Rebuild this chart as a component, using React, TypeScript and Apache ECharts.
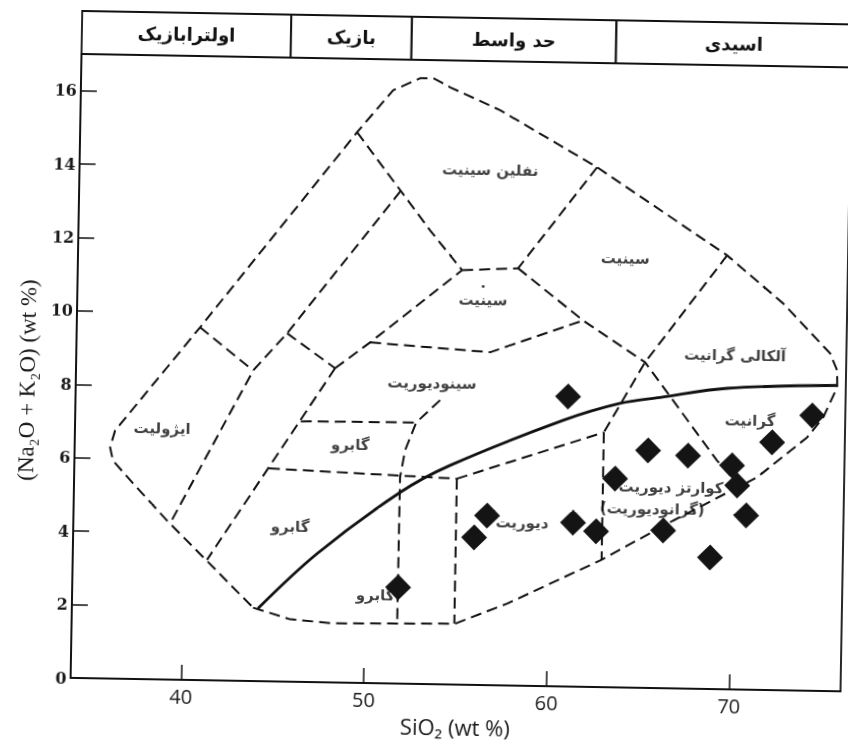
import React, { useEffect, useRef } from "react";
import * as echarts from "echarts";

// Axis ticks
const sio2Ticks = [40, 50, 60, 70];
const alkaliTicks = [0, 2, 4, 6, 8, 10, 12, 14, 16];

// Header row: SiO2 classes
const rockClassNames = ["اولترابازیک", "بازیک", "حد واسط", "اسیدی"];
const rockClassBounds = [33.95, 45.4, 52, 63.2, 76.1];

// Field boundaries (SiO2, Na2O+K2O)
const outerBoundary = [
  [43.87, 2.0], [45.91, 1.7], [48.26, 1.61], [53.74, 1.65], [54.94, 1.66],
  [57.77, 2.23], [62.82, 3.45], [66.78, 4.57], [71.33, 5.79], [74.03, 6.9],
  [74.89, 7.45], [75.63, 8.28], [75.61, 8.74], [75.21, 9.2], [72.59, 10.54],
  [69.48, 11.82], [62.28, 14.16], [56.91, 15.67], [54.15, 16.27], [53.22, 16.51],
  [52.51, 16.5], [51.04, 16.16], [49.11, 15.0], [40.7, 9.61], [38.93, 8.5],
  [36.15, 6.76], [35.89, 6.3], [36.06, 5.94], [37.18, 5.33], [39.08, 4.33],
  [43.87, 2.0],
];
const ultramaficEdge = [[51.55, 13.42], [45.47, 9.49], [43.65, 8.46], [39.24, 4.25]];
const ijoliteTop = [[40.7, 9.61], [43.65, 8.46]];
const gabbroLink = [[45.47, 9.49], [48.13, 8.56]];
const gabbroWest = [[48.13, 8.56], [41.3, 3.28]];
const syenodioriteTop = [[48.13, 8.56], [50.02, 9.28], [54.99, 11.29]];
const nephSyeniteWest = [[49.11, 15.0], [53.2, 12.36], [54.99, 11.29]];
const syeniteBase = [[54.99, 11.29], [58.05, 11.37]];
const nephSyeniteEast = [[62.28, 14.16], [58.05, 11.37]];
const syeniteEast = [[58.05, 11.37], [61.66, 9.98], [65.09, 8.87], [69.12, 6.23], [70.4, 5.53]];
const syenodioriteMid = [[50.02, 9.28], [56.6, 9.07], [61.66, 9.98]];
const alkaliGraniteWest = [[69.48, 11.82], [65.09, 8.87], [62.9, 6.94]];
const dioriteTop = [[54.9, 5.61], [62.9, 6.94]];
const dioriteWest = [[54.9, 5.61], [54.9, 1.66]];
const quartzDioriteWest = [[62.9, 6.94], [62.9, 3.47]];
const gabbroUpper = [[46.3, 7.1], [52.62, 7.12]];
const gabbroLower = [[44.6, 5.8], [54.9, 5.61]];
const gabbroEast = [[53.91, 7.74], [52.62, 7.12], [52.04, 6.36], [51.79, 5.62], [51.77, 1.64]];
const alkalineDivide = [
  [44.14, 1.98], [47.32, 3.5], [51.81, 5.21], [54.52, 5.97], [60.66, 7.25],
  [63.76, 7.74], [65.94, 7.92], [69.61, 8.2], [75.62, 8.33],
];

const dashedBoundaries = [
  outerBoundary, ultramaficEdge, ijoliteTop, gabbroLink, gabbroWest,
  syenodioriteTop, nephSyeniteWest, syeniteBase, nephSyeniteEast, syeniteEast,
  syenodioriteMid, alkaliGraniteWest, dioriteTop, dioriteWest, quartzDioriteWest,
  gabbroUpper, gabbroLower, gabbroEast,
];

// Samples
const sampleSiO2 = [60.91, 65.34, 67.53, 63.56, 69.95, 70.25, 74.29, 72.12, 70.77, 66.24, 68.83, 56.59, 55.9, 61.3, 62.57, 51.79];
const sampleAlkali = [7.9, 6.47, 6.35, 5.69, 6.1, 5.56, 7.5, 6.75, 4.75, 4.3, 3.58, 4.62, 4.02, 4.47, 4.24, 2.62];

// Field names
const fieldNames = [
  "نفلین سینیت", "سینیت", "سینیت", "آلکالی گرانیت", "سینودیوریت", "ایژولیت",
  "گابرو", "گابرو", "گابرو", "گرانیت", "دیوریت", "کوارتز دیوریت", "(گرانودیوریت)",
];
const fieldSiO2 = [56.43, 63.9, 56.16, 70.01, 53.45, 38.72, 49.03, 45.82, 50.54, 70.89, 58.51, 66.63, 65.62];
const fieldAlkali = [14.03, 11.69, 10.6, 9.1, 8.19, 6.84, 6.49, 4.23, 2.39, 7.34, 4.45, 5.47, 4.87];
const dottedField = 2;

const INK = "#111111";
const persianFont = '"DejaVu Sans", sans-serif';

export default function App() {
  const ref = useRef<HTMLDivElement>(null);

  useEffect(() => {
    if (!ref.current) return;
    const chart = echarts.init(ref.current, undefined, { renderer: "svg" });

    const boundarySeries = dashedBoundaries.map((pts) => ({
      type: "line",
      xAxisIndex: 0,
      yAxisIndex: 0,
      data: pts,
      symbol: "none",
      silent: true,
      clip: false,
      z: 2,
      lineStyle: { color: INK, width: 2, type: [11, 6] },
    }));

    const option: any = {
      animation: false,
      backgroundColor: "#ffffff",
      grid: [
        { left: 76, right: 2, top: 60, bottom: 60, show: true, borderColor: INK, borderWidth: 1.8, backgroundColor: "transparent" },
        { left: 76, right: 2, top: 17, bottom: 684, show: false },
      ],
      xAxis: [
        {
          type: "value",
          gridIndex: 0,
          min: 33.95,
          max: 76.1,
          axisLine: { show: true, onZero: false, lineStyle: { color: INK, width: 1.8 } },
          axisTick: { show: true, inside: true, length: 15, customValues: sio2Ticks, lineStyle: { color: INK, width: 1.5 } },
          axisLabel: { customValues: sio2Ticks, margin: 6, fontFamily: '"Open Sans", sans-serif', fontSize: 20, color: "#1a1a1a" },
          splitLine: { show: false },
          name: "SiO₂ (wt %)",
          nameLocation: "middle",
          nameGap: 30,
          nameTextStyle: { fontFamily: '"Open Sans", sans-serif', fontSize: 22, color: "#1a1a1a" },
        },
        { type: "value", gridIndex: 1, min: 33.95, max: 76.1, show: false },
      ],
      yAxis: [
        {
          type: "value",
          gridIndex: 0,
          min: 0,
          max: 17,
          axisLine: { show: true, lineStyle: { color: INK, width: 1.8 } },
          axisTick: { show: true, inside: true, length: 16, customValues: alkaliTicks, lineStyle: { color: INK, width: 1.5 } },
          axisLabel: { customValues: alkaliTicks, margin: 4, fontFamily: '"DejaVu Serif", serif', fontWeight: "bold", fontSize: 16, color: "#1a1a1a" },
          splitLine: { show: false },
          name: "(Na₂O + K₂O) (wt %)",
          nameLocation: "middle",
          nameGap: 36,
          nameTextStyle: { fontFamily: '"Liberation Serif", serif', fontSize: 23, color: "#1a1a1a", padding: [0, 30, 0, 0] },
        },
        { type: "value", gridIndex: 1, min: 0, max: 1, show: false },
      ],
      series: [
        {
          type: "custom",
          xAxisIndex: 1,
          yAxisIndex: 1,
          clip: false,
          silent: true,
          data: rockClassNames.map((_, i) => [rockClassBounds[i], rockClassBounds[i + 1]]),
          renderItem: (params: any, api: any) => {
            const p0 = api.coord([api.value(0), 1]);
            const p1 = api.coord([api.value(1), 0]);
            return {
              type: "group",
              children: [
                {
                  type: "rect",
                  shape: { x: p0[0], y: p0[1], width: p1[0] - p0[0], height: p1[1] - p0[1] },
                  style: { fill: "none", stroke: INK, lineWidth: 1.8 },
                },
                {
                  type: "text",
                  style: {
                    text: rockClassNames[params.dataIndex],
                    x: (p0[0] + p1[0]) / 2,
                    y: (p0[1] + p1[1]) / 2,
                    align: "center",
                    verticalAlign: "middle",
                    font: `bold 18px ${persianFont}`,
                    fill: INK,
                  },
                },
              ],
            };
          },
        },
        ...boundarySeries,
        {
          type: "line",
          xAxisIndex: 0,
          yAxisIndex: 0,
          data: alkalineDivide,
          symbol: "none",
          smooth: 0.35,
          silent: true,
          z: 3,
          lineStyle: { color: INK, width: 2.8, type: "solid" },
        },
        {
          type: "scatter",
          xAxisIndex: 0,
          yAxisIndex: 0,
          data: fieldNames.map((n, i) => [fieldSiO2[i], fieldAlkali[i], n]),
          symbolSize: 0,
          silent: true,
          z: 4,
          label: {
            show: true,
            position: "inside",
            formatter: (p: any) =>
              p.dataIndex === dottedField ? `{d|•}\n{t|${p.value[2]}}` : `{t|${p.value[2]}}`,
            rich: {
              t: { fontFamily: persianFont, fontWeight: "bold", fontSize: 15, color: INK, lineHeight: 19 },
              d: { fontFamily: persianFont, fontSize: 10, color: INK, lineHeight: 8 },
            },
          },
        },
        {
          type: "scatter",
          xAxisIndex: 0,
          yAxisIndex: 0,
          data: sampleSiO2.map((x, i) => [x, sampleAlkali[i]]),
          symbol: "diamond",
          symbolSize: 26,
          silent: true,
          z: 5,
          itemStyle: { color: "#141414", opacity: 1 },
        },
      ],
    };

    chart.setOption(option);
    return () => chart.dispose();
  }, []);

  return (
    <div
      ref={ref}
      style={{
        position: "fixed",
        left: 0,
        top: 0,
        width: 848,
        height: 744,
        background: "#ffffff",
        transform: "rotate(1deg)",
      }}
    />
  );
}
